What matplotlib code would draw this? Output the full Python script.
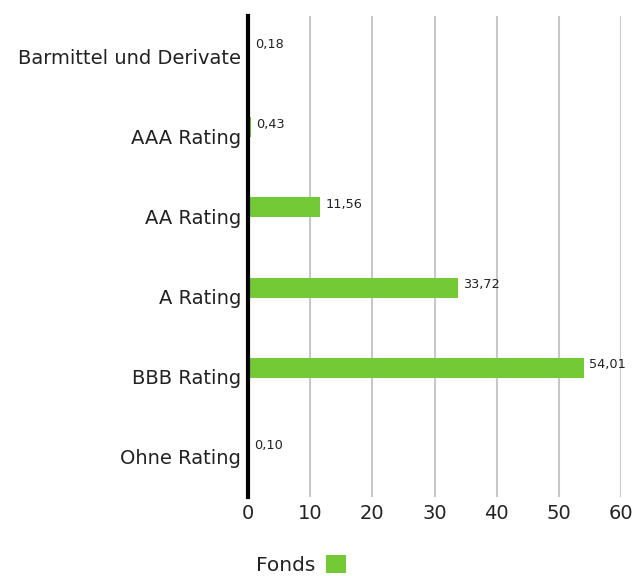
import matplotlib
matplotlib.use("Agg")
import matplotlib.pyplot as plt
from matplotlib.patches import Patch
from matplotlib.transforms import ScaledTranslation

plt.rcParams['font.family'] = ['DejaVu Sans']

categories = ["Barmittel und Derivate", "AAA Rating", "AA Rating", "A Rating", "BBB Rating", "Ohne Rating"]
values = [0.18, 0.43, 11.56, 33.72, 54.01, 0.10]
value_labels = ["0,18", "0,43", "11,56", "33,72", "54,01", "0,10"]
series_name = "Fonds"
xticks = [0, 10, 20, 30, 40, 50, 60]

green = "#73c936"

fig = plt.figure(figsize=(6.32, 5.76), dpi=100)
ax = fig.add_axes([248/632, 1-497/576, (621-248)/632, (497-16)/576])

pos = list(range(len(categories)))
bar_pos = [p - 0.1375 for p in pos]
ax.barh(bar_pos, values, height=0.25, color=green, zorder=3)
for y, v, lab in zip(bar_pos, values, value_labels):
    ax.annotate(lab, (v, y), xytext=(4, 2), textcoords="offset points",
                ha="left", va="center", fontsize=9.3, color="#222222", zorder=4)

ax.set_xlim(0, 60)
ax.set_ylim(5.475, -0.525)
ax.set_yticks(pos)
ax.set_yticklabels(categories, fontsize=14, color="#222222")
ax.set_xticks(xticks)
ax.set_xticklabels([str(t) for t in xticks], fontsize=14, color="#222222")
ax.tick_params(axis="y", length=0, pad=5)
ax.tick_params(axis="x", length=0, pad=5)
shift = ScaledTranslation(0, 2/100, fig.dpi_scale_trans)
for lbl in ax.get_yticklabels():
    lbl.set_transform(lbl.get_transform() + shift)

for s in ["top", "right", "bottom"]:
    ax.spines[s].set_visible(False)
ax.spines["left"].set_linewidth(3)
ax.spines["left"].set_color("black")
ax.spines["left"].set_zorder(5)

ax.xaxis.grid(True, color="#c8c8c8", linewidth=1.5, zorder=0)
ax.yaxis.grid(False)
ax.set_axisbelow(True)

leg = fig.legend(handles=[Patch(facecolor=green, label=series_name)],
                 loc="center", bbox_to_anchor=(301/632, 1-565/576),
                 frameon=False, markerfirst=False, fontsize=14.5,
                 handlelength=1.0, handleheight=1.0, handletextpad=0.5,
                 borderpad=0.2)
for t in leg.get_texts():
    t.set_color("#222222")

fig.savefig("out.png", dpi=100)
